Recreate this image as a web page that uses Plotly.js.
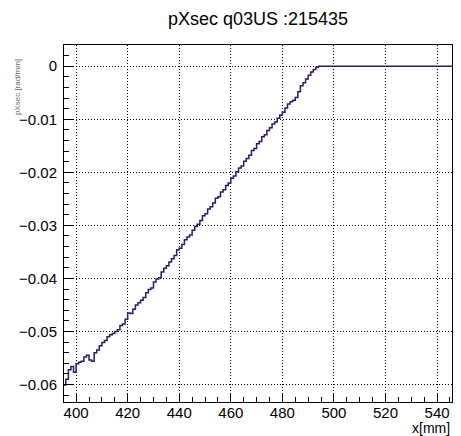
<!DOCTYPE html>
<html>
<head>
<meta charset="utf-8">
<script src="https://cdn.plot.ly/plotly-3.0.1.min.js"></script>
<style>
  html, body { margin: 0; padding: 0; background: #ffffff; }
  #plot { width: 461px; height: 436px; }
</style>
</head>
<body>
<div id="plot"></div>
<script>
// Histogram pXsec for run 215435, 1 mm bins starting at 395 mm
const chartTitle = "pXsec q03US :215435";
const xTitle = "x[mm]";
const yTitle = "pXsec [rad/mm]";
const binStart = 395;
const binWidth = 1;

// bin contents, 395 mm .. 493 mm
const slopeBins = [
  -0.0601, -0.0590, -0.0572, -0.0566, -0.0577, -0.0561, -0.0558, -0.0556, -0.0548, -0.0545,
  -0.0554, -0.0556, -0.0540, -0.0535, -0.0527, -0.0521, -0.0517, -0.0510, -0.0506, -0.0504,
  -0.0500, -0.0497, -0.0489, -0.0486, -0.0477, -0.0465, -0.0466, -0.0458, -0.0450, -0.0446,
  -0.0441, -0.0436, -0.0427, -0.0421, -0.0418, -0.0407, -0.0401, -0.0399, -0.0388, -0.0381,
  -0.0376, -0.0369, -0.0363, -0.0357, -0.0346, -0.0343, -0.0336, -0.0327, -0.0322, -0.0318,
  -0.0309, -0.0302, -0.0298, -0.0291, -0.0282, -0.0278, -0.0269, -0.0265, -0.0258, -0.0249,
  -0.0246, -0.0237, -0.0233, -0.0225, -0.0220, -0.0211, -0.0207, -0.0199, -0.0192, -0.0188,
  -0.0179, -0.0174, -0.0168, -0.0159, -0.0155, -0.0146, -0.0142, -0.0133, -0.0129, -0.0121,
  -0.0116, -0.0109, -0.0105, -0.0098, -0.0092, -0.0087, -0.0079, -0.0071, -0.0067, -0.0064,
  -0.0059, -0.0048, -0.0037, -0.0031, -0.0024, -0.0017, -0.0011, -0.0006, -0.0002
];

// bin contents, 494 mm .. 545 mm
const flatBins = [
  0, 0, 0, 0, 0, 0, 0, 0, 0, 0, 0, 0, 0, 0, 0, 0, 0, 0, 0, 0, 0, 0, 0, 0, 0, 0,
  0, 0, 0, 0, 0, 0, 0, 0, 0, 0, 0, 0, 0, 0, 0, 0, 0, 0, 0, 0, 0, 0, 0, 0, 0, 0
];

const xTicks = [400, 420, 440, 460, 480, 500, 520, 540];
const yTicks = [-0.06, -0.05, -0.04, -0.03, -0.02, -0.01, 0];

// step outline: each bin's low edge carries its content, last edge closes the final bin
const contents = slopeBins.concat(flatBins);
const edgesX = contents.map((_, i) => binStart + i * binWidth);
edgesX.push(binStart + contents.length * binWidth);
const stepY = contents.concat([contents[contents.length - 1]]);

const font = "Liberation Sans, Arial, Helvetica, sans-serif";

const trace = {
  type: "scatter",
  mode: "lines",
  x: edgesX,
  y: stepY,
  line: { shape: "hv", color: "#1f1f6e", width: 1.5 },
  hoverinfo: "skip",
  showlegend: false
};

const axisCommon = {
  showline: true,
  linecolor: "#000000",
  linewidth: 1,
  mirror: true,
  ticks: "inside",
  tickcolor: "#000000",
  tickwidth: 1,
  showgrid: true,
  gridcolor: "#000000",
  gridwidth: 1,
  griddash: "1px,2px",
  zeroline: false,
  tickfont: { family: font, size: 15, color: "#000000" },
  fixedrange: true
};

const layout = {
  width: 461,
  height: 436,
  margin: { l: 64, r: 9, t: 45, b: 34 },
  paper_bgcolor: "#ffffff",
  plot_bgcolor: "#ffffff",
  title: {
    text: chartTitle,
    font: { family: font, size: 18, color: "#000000" },
    xref: "paper", x: 0.5, xanchor: "center",
    yref: "container", y: 1 - 19 / 436, yanchor: "middle"
  },
  xaxis: Object.assign({}, axisCommon, {
    range: [395.3, 545.8],
    tickmode: "array",
    tickvals: xTicks,
    ticktext: xTicks.map(String),
    ticklen: 9,
    ticklabelstandoff: -3,
    minor: { dtick: 5, tick0: 400, ticks: "inside", ticklen: 5, tickcolor: "#000000", tickwidth: 1, showgrid: false }
  }),
  yaxis: Object.assign({}, axisCommon, {
    range: [-0.0633, 0.004],
    tickmode: "array",
    tickvals: yTicks,
    ticktext: yTicks.map(v => v === 0 ? "0" : "\u2212" + Math.abs(v).toFixed(2)),
    ticklen: 10,
    ticklabelstandoff: 3,
    minor: { dtick: 0.002, tick0: 0, ticks: "inside", ticklen: 5, tickcolor: "#000000", tickwidth: 1, showgrid: false }
  }),
  annotations: [
    {
      text: xTitle,
      xref: "paper", x: 1, xanchor: "right",
      yref: "paper", y: -26 / 357, yanchor: "middle",
      showarrow: false,
      font: { family: font, size: 14, color: "#000000" }
    },
    {
      text: yTitle,
      textangle: -90,
      xref: "paper", x: -64 / 388 + 17 / 388, xanchor: "center",
      yref: "paper", y: 1 - 12 / 357, yanchor: "top",
      showarrow: false,
      font: { family: font, size: 8, color: "#666666" }
    }
  ]
};

Plotly.newPlot("plot", [trace], layout, { displayModeBar: false, staticPlot: true });
</script>
</body>
</html>
